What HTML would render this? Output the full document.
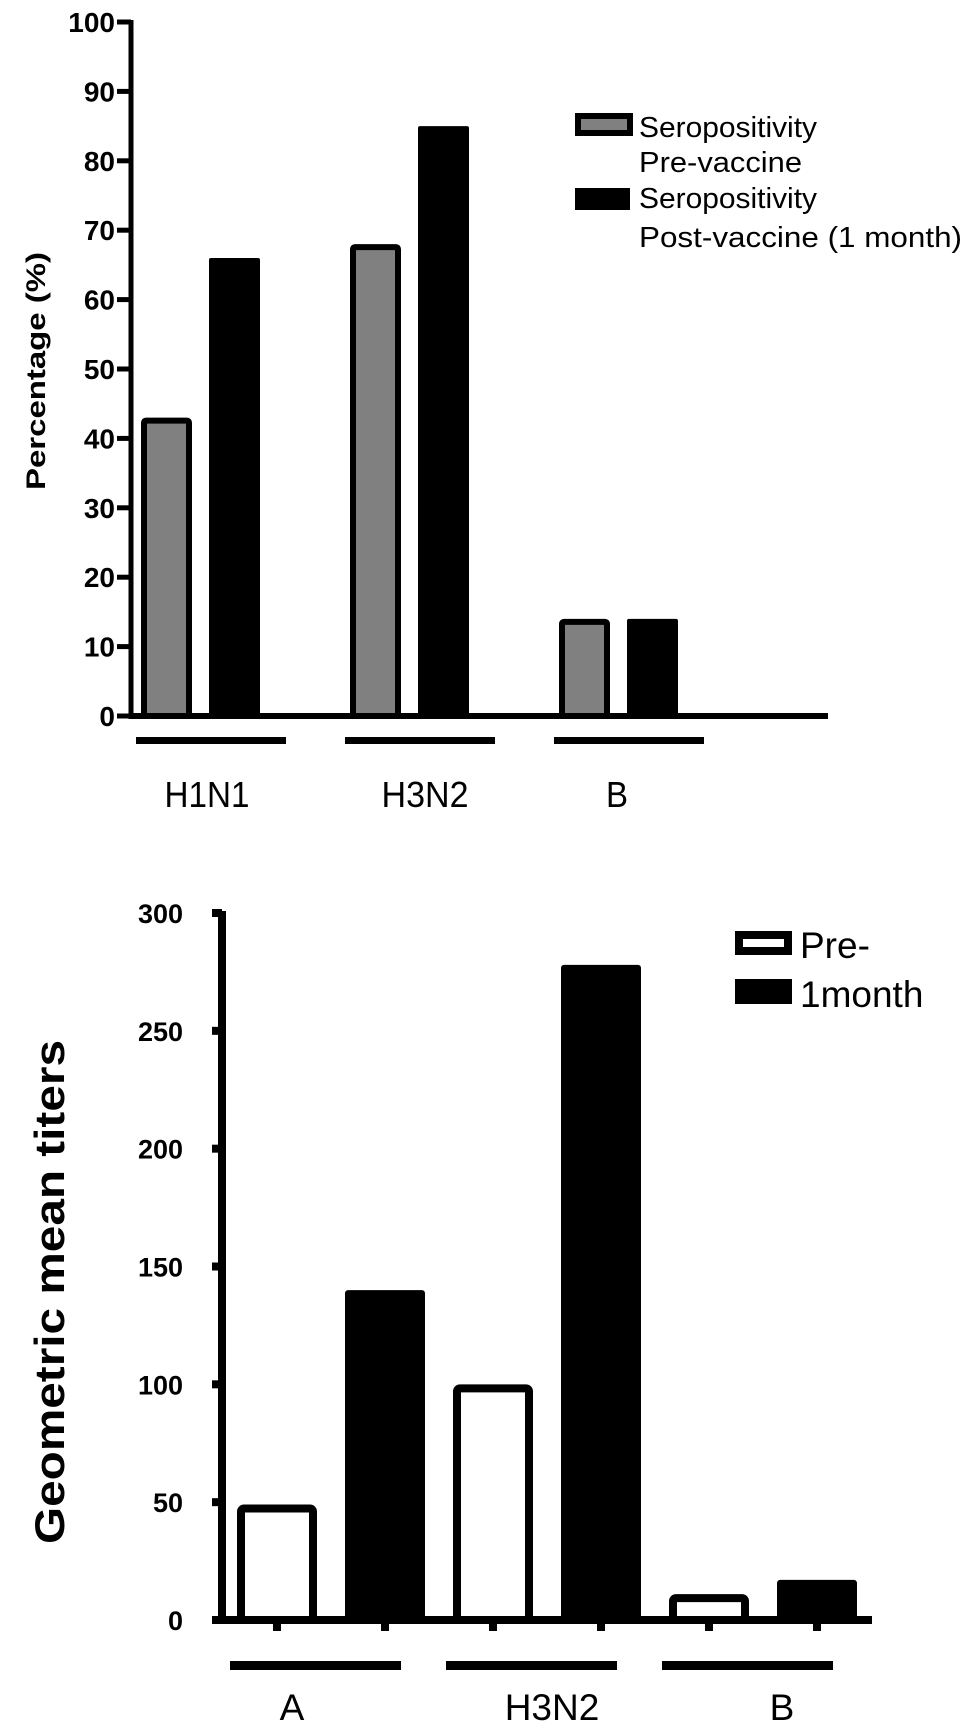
<!DOCTYPE html>
<html><head><meta charset="utf-8"><style>
html,body{margin:0;padding:0;background:#fff;}
svg{display:block;font-family:"Liberation Sans",Arial,sans-serif;}
</style></head><body>
<svg id="s" width="969" height="1736" viewBox="0 0 969 1736">
<g id="top"></g>
<g id="bot"></g>
</svg>
<script>
// ---- Top chart data ----
const topCategories = ["H1N1","H3N2","B"];
const topPre = [43, 68, 14];
const topPost = [66, 85, 14];
const topTicks = [0,10,20,30,40,50,60,70,80,90,100];
// ---- Bottom chart data ----
const botCategories = ["A","H3N2","B"];
const botPre = [49, 100, 11];
const botPost = [140, 278, 17];
const botTicks = [0,50,100,150,200,250,300];

const NS="http://www.w3.org/2000/svg";
function mk(parent,tag,attrs,text){const e=document.createElementNS(NS,tag);for(const k in attrs)e.setAttribute(k,attrs[k]);if(text!==undefined)e.textContent=text;parent.appendChild(e);return e;}

// ===== Top chart =====
(function(){
const g=document.getElementById('top');
const y0=716, y100=22, ax=131;
const yS=v=>y0-(v/100)*(y0-y100);
const bw=51;
const groupX=i=>141+i*209;
const labelX=[207,425,617];
const labelW=[85,87,22];
let e=mk(g,'line',{x1:ax,y1:yS(100)-2,x2:ax,y2:y0+3,stroke:'#000','stroke-width':5});

e=mk(g,'line',{x1:ax-2,y1:y0,x2:828,y2:y0,stroke:'#000','stroke-width':6});

topTicks.forEach(t=>{
  const y=yS(t);
  let l=mk(g,'line',{x1:117,y1:y,x2:ax,y2:y,stroke:'#000','stroke-width':5});
  
  let tx=mk(g,'text',{x:115,y:y+10,'text-anchor':'end','font-size':28,'font-weight':'bold'},String(t));
  
});
let yt=mk(g,'text',{transform:'translate(45,371) rotate(-90)','text-anchor':'middle','font-size':27,'font-weight':'bold',textLength:238,lengthAdjust:'spacingAndGlyphs'},'Percentage (%)');

topCategories.forEach((c,i)=>{
  const x=groupX(i);
  const yp=yS(topPre[i]);
  let r=mk(g,'rect',{x:x+3,y:yp+3,width:bw-6,height:y0-yp-3,fill:'#808080',stroke:'#000','stroke-width':6,rx:2});
  
  const yq=yS(topPost[i]);
  r=mk(g,'rect',{x:x+68,y:yq,width:bw,height:y0-yq,fill:'#000',rx:2});
  
  const gl=x-5;
  let l=mk(g,'rect',{x:gl,y:737,width:150,height:7,fill:'#000'});
  
  let t=mk(g,'text',{x:labelX[i],y:807,'text-anchor':'middle','font-size':36,textLength:labelW[i],lengthAdjust:'spacingAndGlyphs'},c);
  
});
let s1=mk(g,'rect',{x:578,y:116,width:52,height:17,fill:'#808080',stroke:'#000','stroke-width':6});

let s2=mk(g,'rect',{x:575,y:188,width:55,height:22,fill:'#000'});

[['Seropositivity',137,178],['Pre-vaccine',172,163],['Seropositivity',208,178],['Post-vaccine (1 month)',247,323]].forEach(a=>{
  let t=mk(g,'text',{x:639,y:a[1],'font-size':29,textLength:a[2],lengthAdjust:'spacingAndGlyphs'},a[0]);
  
});
})();

// ===== Bottom chart =====
(function(){
const g=document.getElementById('bot');
const y0=1620, y300=913, ax=222;
const yS=v=>y0-(v/300)*(y0-y300);
const bw=80;
const gx=i=>237+i*216;
const labelX=[292,552,782];
let e=mk(g,'line',{x1:ax,y1:yS(300)-2,x2:ax,y2:y0+4,stroke:'#000','stroke-width':8});

e=mk(g,'line',{x1:212,y1:y0,x2:872,y2:y0,stroke:'#000','stroke-width':8});

botTicks.forEach(t=>{
  const y=yS(t);
  let l=mk(g,'line',{x1:212,y1:y,x2:ax,y2:y,stroke:'#000','stroke-width':8});
  
  let tx=mk(g,'text',{x:183,y:y+10,'text-anchor':'end','font-size':27,'font-weight':'bold'},String(t));
  
});
let yt=mk(g,'text',{transform:'translate(64,1292) rotate(-90)','text-anchor':'middle','font-size':42,'font-weight':'bold',textLength:504,lengthAdjust:'spacingAndGlyphs','xml:space':'preserve'},'Geometric mean  titers');

botCategories.forEach((c,i)=>{
  const x=gx(i);
  const yp=yS(botPre[i]);
  let r=mk(g,'rect',{x:x+4,y:yp+4,width:bw-8,height:y0-yp-4,fill:'#fff',stroke:'#000','stroke-width':8,rx:3});
  
  const yq=yS(botPost[i]);
  r=mk(g,'rect',{x:x+108,y:yq,width:bw,height:y0-yq,fill:'#000',rx:3});
  
  [x+40,x+148].forEach(tx=>{
    let tk=mk(g,'rect',{x:tx-4,y:y0,width:8,height:11,fill:'#000'});
    
  });
  let l=mk(g,'rect',{x:x-7,y:1661,width:171,height:9,fill:'#000'});
  
  let t=mk(g,'text',{x:labelX[i],y:1720,'text-anchor':'middle','font-size':37},c);
  
});
let s1=mk(g,'rect',{x:739,y:935,width:49,height:16,fill:'#fff',stroke:'#000','stroke-width':8});

let s2=mk(g,'rect',{x:735,y:979,width:57,height:25,fill:'#000'});

let l1=mk(g,'text',{x:800,y:958,'font-size':37},'Pre-');

let l2=mk(g,'text',{x:800,y:1007,'font-size':37},'1month');

})();
</script>
</body></html>
